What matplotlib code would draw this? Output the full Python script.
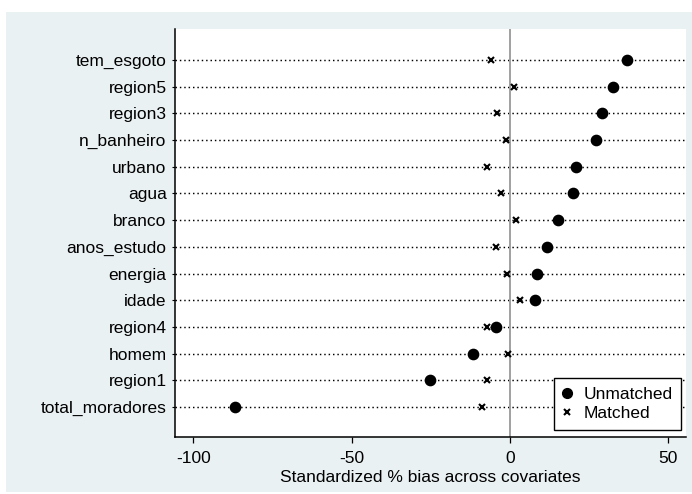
import matplotlib
matplotlib.use("Agg")
import matplotlib.pyplot as plt
from matplotlib.patches import Rectangle

plt.rcParams['font.family'] = ['Liberation Sans', 'DejaVu Sans']
plt.rcParams['axes.unicode_minus'] = False

covariates = ["tem_esgoto", "region5", "region3", "n_banheiro", "urbano", "agua",
              "branco", "anos_estudo", "energia", "idade", "region4", "homem",
              "region1", "total_moradores"]
unmatched = [37.0, 32.7, 29.2, 27.3, 20.9, 19.9, 15.1, 11.7, 8.6, 8.0, -4.4, -11.6, -25.3, -87.0]
matched = [-6.0, 1.3, -4.2, -1.1, -7.4, -2.7, 1.9, -4.3, -0.9, 3.3, -7.2, -0.7, -7.2, -8.8]
xticks = [-100, -50, 0, 50]
xlabel = "Standardized % bias across covariates"

FS = 12.5
W, H = 692, 494
fig = plt.figure(figsize=(W / 100, H / 100), dpi=100)
fig.patch.set_facecolor("white")
bg = Rectangle((6 / W, 2 / H), 1 - 6 / W, (492 - 12) / H, transform=fig.transFigure,
               facecolor="#EAF1F3", edgecolor="none", zorder=-10)
fig.patches.append(bg)

left, right = 175 / W, 686 / W
top, bottom = 1 - 29.3 / H, 1 - 436.7 / H
ax = fig.add_axes([left, bottom, right - left, top - bottom])
ax.set_facecolor("white")

ypos = list(range(len(covariates)))
for y in ypos:
    ax.axhline(y, color="black", linewidth=1.05, linestyle=(0, (1, 2.0)), zorder=1)
ax.axvline(0, color="#A0A0A0", linewidth=1.4, zorder=2)

ax.plot(unmatched, ypos, linestyle="none", marker="o", markersize=7.4,
        color="black", zorder=4, label="Unmatched")
ax.plot(matched, ypos, linestyle="none", marker="x", markersize=4.0,
        markeredgewidth=1.5, color="black", zorder=4, label="Matched")

ax.set_xlim(-105.8, 55.6)
ax.set_ylim(14.11, -1.15)
ax.set_yticks(ypos)
ax.set_yticklabels(covariates, fontsize=FS)
ax.set_xticks(xticks)
ax.set_xticklabels([str(v) for v in xticks], fontsize=FS)
ax.set_xlabel(xlabel, fontsize=FS, labelpad=3)

for s in ["top", "right"]:
    ax.spines[s].set_visible(False)
for s in ["left", "bottom"]:
    ax.spines[s].set_linewidth(1.1)
    ax.spines[s].set_color("black")
ax.tick_params(axis="y", length=2.5, width=0.8, pad=3.5)
ax.tick_params(axis="x", length=4, width=0.9, pad=6)

leg = ax.legend(loc="lower right", bbox_to_anchor=(681 / W, 1 - 430 / H),
                bbox_transform=fig.transFigure, fontsize=FS, frameon=True,
                fancybox=False, edgecolor="black", borderaxespad=0,
                handlelength=0.5, handletextpad=0.7, borderpad=0.5,
                labelspacing=0.25, markerscale=0.95)
leg.get_frame().set_linewidth(1.0)
leg.get_frame().set_facecolor("white")
leg.get_frame().set_alpha(1)

fig.savefig("out.png", dpi=100)
